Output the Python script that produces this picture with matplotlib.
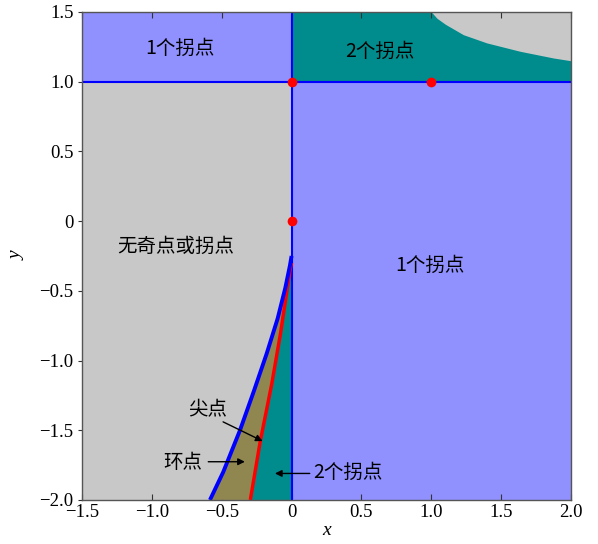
import matplotlib
matplotlib.use("Agg")
import matplotlib.pyplot as plt

plt.rcParams['font.family'] = ['Liberation Serif', 'DejaVu Serif']
cjk = ['Noto Sans CJK SC', 'DejaVu Sans']

# ---- data ----
x_range = [-1.5, 2.0]
y_range = [-2.0, 1.5]
x_ticks = [-1.5, -1.0, -0.5, 0.0, 0.5, 1.0, 1.5, 2.0]
x_ticklabels = ['\u22121.5', '\u22121.0', '\u22120.5', '0', '0.5', '1.0', '1.5', '2.0']
y_ticks = [-2.0, -1.5, -1.0, -0.5, 0.0, 0.5, 1.0, 1.5]
y_ticklabels = ['\u22122.0', '\u22121.5', '\u22121.0', '\u22120.5', '0', '0.5', '1.0', '1.5']

# loop boundary (blue curve)
loop_x = [-0.584, -0.489, -0.369, -0.27, -0.178, -0.10, -0.045, -0.012, 0.0]
loop_y = [-2.0, -1.80, -1.50, -1.22, -0.95, -0.70, -0.48, -0.32, -0.25]
# cusp curve (red)
cusp_x = [-0.295, -0.224, -0.142, -0.078, -0.011, 0.0]
cusp_y = [-2.0, -1.58, -1.17, -0.80, -0.35, -0.30]
# upper-right grey region boundary
grey_x = [1.0, 1.04, 1.10, 1.229, 1.397, 1.635, 1.873, 2.0]
grey_y = [1.5, 1.455, 1.412, 1.337, 1.278, 1.218, 1.17, 1.15]
# special points
dot_x = [0.0, 1.0, 0.0]
dot_y = [1.0, 1.0, 0.0]

c_purple = '#9090ff'
c_teal = '#008c8c'
c_grey = '#c8c8c8'
c_olive = '#8f8650'

fig = plt.figure(figsize=(5.98, 5.44), dpi=100)
ax = fig.add_axes([0.137, 0.081, 0.818, 0.897])
ax.set_xlim(*x_range)
ax.set_ylim(*y_range)
ax.set_facecolor(c_grey)

xmin, xmax = x_range
ymin, ymax = y_range
# upper-left: 1 inflection
ax.fill_between([xmin, 0], 1, ymax, color=c_purple, lw=0, zorder=1)
# upper-right: 2 inflections, with grey corner
ax.fill_between([0, xmax], 1, ymax, color=c_teal, lw=0, zorder=1)
ax.fill_between(grey_x, grey_y, ymax, color=c_grey, lw=0, zorder=1.5)
# lower-right: 1 inflection
ax.fill_between([0, xmax], ymin, 1, color=c_purple, lw=0, zorder=1)
# wedge: loop region and 2-inflection region
ax.fill(loop_x + [0.0], loop_y + [ymin], color=c_olive, lw=0, zorder=2)
ax.fill(cusp_x + [0.0], cusp_y + [ymin], color=c_teal, lw=0, zorder=2.5)

# boundaries
ax.axhline(1.0, color='#0000ff', lw=1.5, zorder=3)
ax.axvline(0.0, color='#0000ff', lw=1.5, zorder=3)
ax.plot(loop_x, loop_y, color='#0000ff', lw=2.8, zorder=3.5, solid_capstyle='butt')
ax.plot(cusp_x, cusp_y, color='#ff0000', lw=2.5, zorder=3.4, solid_capstyle='butt')
ax.plot(dot_x, dot_y, 'o', color='#ff0000', ms=7, mec='none', zorder=5, clip_on=False)

# labels
fs = 14
ax.text(-0.80, 1.235, '1个拐点', family=cjk, fontsize=fs, ha='center', va='center', zorder=6)
ax.text(0.63, 1.22, '2个拐点', family=cjk, fontsize=fs, ha='center', va='center', zorder=6)
ax.text(-0.83, -0.18, '无奇点或拐点', family=cjk, fontsize=fs, ha='center', va='center', zorder=6)
ax.text(0.99, -0.32, '1个拐点', family=cjk, fontsize=fs, ha='center', va='center', zorder=6)

arrow = dict(arrowstyle='-|>', color='black', lw=1.0, mutation_scale=10, shrinkA=0, shrinkB=0)
ax.text(-0.60, -1.355, '尖点', family=cjk, fontsize=fs, ha='center', va='center', zorder=6)
ax.annotate('', xy=(-0.207, -1.578), xytext=(-0.49, -1.44), arrowprops=arrow, zorder=6)
ax.text(-0.776, -1.735, '环点', family=cjk, fontsize=fs, ha='center', va='center', zorder=6)
ax.annotate('', xy=(-0.334, -1.726), xytext=(-0.596, -1.726), arrowprops=arrow, zorder=6)
ax.text(0.40, -1.80, '2个拐点', family=cjk, fontsize=fs, ha='center', va='center', zorder=6)
ax.annotate('', xy=(-0.119, -1.81), xytext=(0.13, -1.81), arrowprops=arrow, zorder=6)

# ticks
ax.set_xticks(x_ticks)
ax.set_xticklabels(x_ticklabels, fontsize=13.5)
ax.set_yticks(y_ticks)
ax.set_yticklabels(y_ticklabels, fontsize=13.5)
ax.tick_params(axis='x', direction='in', top=True, bottom=True, length=4, color='#333333', pad=3)
ax.tick_params(axis='y', direction='out', left=True, right=False, length=3, color='#333333', pad=3)
for s in ax.spines.values():
    s.set_color('#555555')
    s.set_linewidth(1.0)
    s.set_zorder(7)

ax.set_xlabel('x', fontsize=14, style='italic', labelpad=1)
ax.set_ylabel('y', fontsize=14, style='italic', labelpad=10)

fig.savefig('out.png', dpi=100)
